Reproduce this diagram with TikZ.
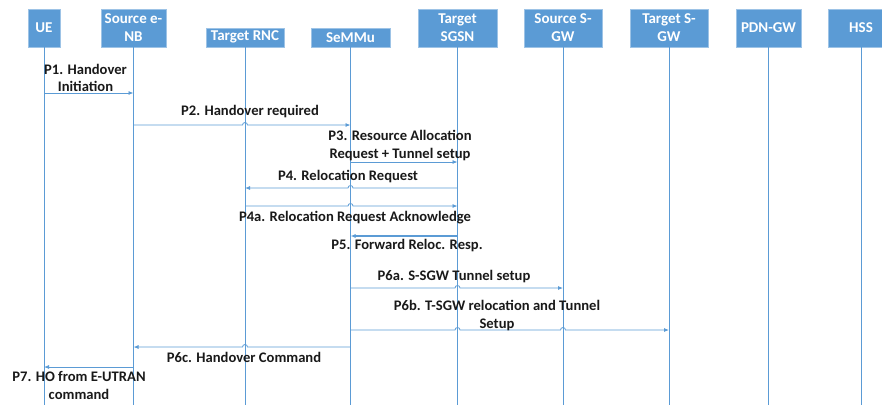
\documentclass[tikz,border=0pt]{standalone}
\usepackage{fontspec}
\setmainfont{Carlito}
\usetikzlibrary{arrows.meta}
\definecolor{msblue}{HTML}{5B9BD5}

\begin{document}
\begin{tikzpicture}[x=1pt,y=1pt,
    entity/.style={fill=msblue, draw=msblue!60!white, text=white, anchor=south,
      font=\bfseries\fontsize{15}{18}\selectfont, align=center, inner sep=0pt,
      minimum width=#1},
    tall/.style={minimum height=38pt},
    short/.style={minimum height=19pt},
    lifeline/.style={draw=msblue, line width=0.9pt},
    msg/.style={draw=msblue, line width=0.8pt, -{Latex[length=5pt,width=4pt]}},
    lbl/.style={font=\bfseries\fontsize{14.6}{17.5}\selectfont, align=center, text=black!90, inner sep=0pt}]

    \useasboundingbox (0,0) rectangle (882,-405);

    % the parties
    \node[entity=32, tall] (ue) at (44,-47) {UE};
    \node[entity=65, tall] (enb) at (133.5,-47) {Source e-\\NB};
    \node[entity=78, short] (rnc) at (245,-47) {Target RNC};
    \node[entity=79, short] (mmu) at (350.5,-47) {SeMMu};
    \node[entity=79, tall] (sgsn) at (457.5,-47) {Target\\SGSN};
    \node[entity=78, tall] (ssgw) at (563,-47) {Source S-\\GW};
    \node[entity=78, tall] (tsgw) at (669,-47) {Target S-\\GW};
    \node[entity=65, tall] (pgw) at (768.5,-47) {PDN-GW};
    \node[entity=66, tall] (hss) at (861,-47) {HSS};

    % lifelines
    \draw[lifeline] (ue.south) -- (ue.south |- 0,-405);
    \draw[lifeline] (enb.south) -- (enb.south |- 0,-405);
    \draw[lifeline] (rnc.south) -- (rnc.south |- 0,-405);
    \draw[lifeline] (mmu.south) -- (mmu.south |- 0,-405);
    \draw[lifeline] (sgsn.south) -- (sgsn.south |- 0,-405);
    \draw[lifeline] (ssgw.south) -- (ssgw.south |- 0,-405);
    \draw[lifeline] (tsgw.south) -- (tsgw.south |- 0,-405);
    \draw[lifeline] (pgw.south) -- (pgw.south |- 0,-405);
    \draw[lifeline] (hss.south) -- (hss.south |- 0,-405);

    % P1
    \draw[msg] (ue.south |- 0,-93) -- (enb.south |- 0,-93);
    \node[lbl] (p1) at (85.5,-78) {P1. Handover\\Initiation};

    % P2
    \draw[msg] (enb.south |- 0,-125) -- ([xshift=-2.5pt]rnc.south |- 0,-125)
      arc (180:0:2.5) -- (mmu.south |- 0,-125);
    \node[lbl] (p2) at (250,-112) {P2. Handover required};

    % P3
    \draw[msg] (mmu.south |- 0,-162) -- (sgsn.south |- 0,-162);
    \node[lbl] (p3) at (400,-145.5) {P3. Resource Allocation\\Request + Tunnel setup};

    % P4
    \draw[msg] (sgsn.south |- 0,-188) -- ([xshift=2.5pt]mmu.south |- 0,-188)
      arc (0:180:2.5) -- (rnc.south |- 0,-188);
    \node[lbl] (p4) at (348,-177) {P4. Relocation Request};

    % P4a
    \draw[msg] (rnc.south |- 0,-206) -- ([xshift=-2.5pt]mmu.south |- 0,-206)
      arc (180:0:2.5) -- (sgsn.south |- 0,-206);
    \node[lbl] (p4a) at (355,-218) {P4a. Relocation Request Acknowledge};

    % P5
    \draw[msg, line width=1.1pt] (sgsn.south |- 0,-236) -- (mmu.south |- 0,-236);
    \node[lbl] (p5) at (407,-246) {P5. Forward Reloc. Resp.};

    % P6a
    \draw[msg] (mmu.south |- 0,-288) -- ([xshift=-2.5pt]sgsn.south |- 0,-288)
      arc (180:0:2.5) -- (ssgw.south |- 0,-288);
    \node[lbl] (p6a) at (454,-277) {P6a. S-SGW Tunnel setup};

    % P6b
    \draw[msg] (mmu.south |- 0,-330) -- ([xshift=-2.5pt]sgsn.south |- 0,-330)
      arc (180:0:2.5) -- ([xshift=-2.5pt]ssgw.south |- 0,-330)
      arc (180:0:2.5) -- (tsgw.south |- 0,-330);
    \node[lbl] (p6b) at (497,-315.5) {P6b. T-SGW relocation and Tunnel\\Setup};

    % P6c
    \draw[msg] (mmu.south |- 0,-347) -- ([xshift=2.5pt]rnc.south |- 0,-347)
      arc (0:180:2.5) -- (enb.south |- 0,-347);
    \node[lbl] (p6c) at (244,-357) {P6c. Handover Command};

    % P7
    \draw[msg] (enb.south |- 0,-367) -- (ue.south |- 0,-367);
    \node[lbl] (p7) at (79,-385.5) {P7. HO from E-UTRAN\\command};

\end{tikzpicture}
\end{document}
